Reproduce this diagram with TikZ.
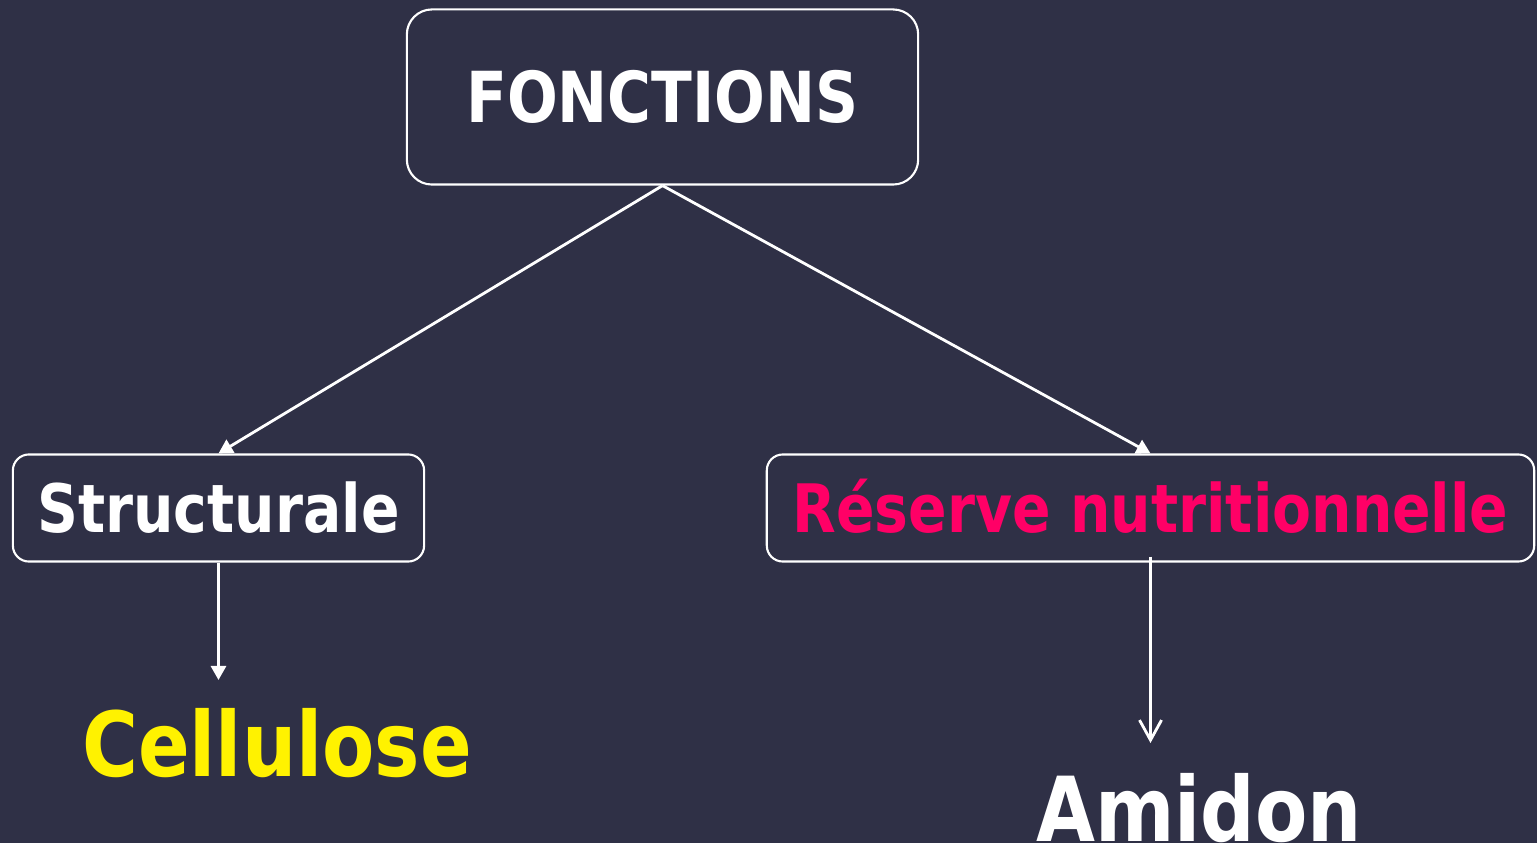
\documentclass[tikz,border=0pt]{standalone}
\usepackage{fontspec}
\setmainfont{DejaVu Sans}[FakeStretch=0.85]
\usetikzlibrary{arrows.meta}
\definecolor{fond}{HTML}{2F3046}
\definecolor{rose}{HTML}{FF0066}
\tikzset{
  cadre/.style={draw=white,line width=0.6pt,rounded corners=0.16cm,
    text height=13.9pt,text depth=0pt,inner sep=0pt},
  titre/.style={font=\fontsize{19}{19}\selectfont\bfseries},
  grand/.style={font=\fontsize{25.5}{25.5}\selectfont\bfseries,inner sep=0pt,anchor=base},
}
\begin{document}
\begin{tikzpicture}[x=0.01cm,y=-0.01cm,line width=0.8pt,white,>={Triangle[width=0.15cm,length=0.14cm]}]
         \useasboundingbox [fill=fond] (0,0) rectangle (1537,843);

         \node [cadre,font=\fontsize{20}{20}\selectfont\bfseries,text height=14.6pt,
                rounded corners=0.25cm,minimum width=5.11cm,minimum height=1.75cm]
               (fon) at (662.5,97) {FONCTIONS};
         \node [cadre,titre,minimum width=4.11cm,minimum height=1.07cm]
               (str) at (218.5,508) {Structurale};
         \node [cadre,titre,text=rose,minimum width=7.67cm,minimum height=1.07cm]
               (res) at (1150.5,508) {Réserve nutritionnelle};

         \node [grand,text=yellow] (cel) at (277,776) {Cellulose};
         \node [grand] (ami) at (1199,841) {Amidon};

         \coordinate (p1) at (218.5,680);
         \coordinate (p2) at (1150.5,743);

         \draw [->] (fon.south) -- (str.north);
         \draw [->] (fon.south) -- (res.north);
         \draw [->] (str.south) -- (p1);
         \draw [-{Straight Barb[width=0.22cm,length=0.2cm]}] ([yshift=0.06cm]res.south) -- (p2);
       \end{tikzpicture}
\end{document}
